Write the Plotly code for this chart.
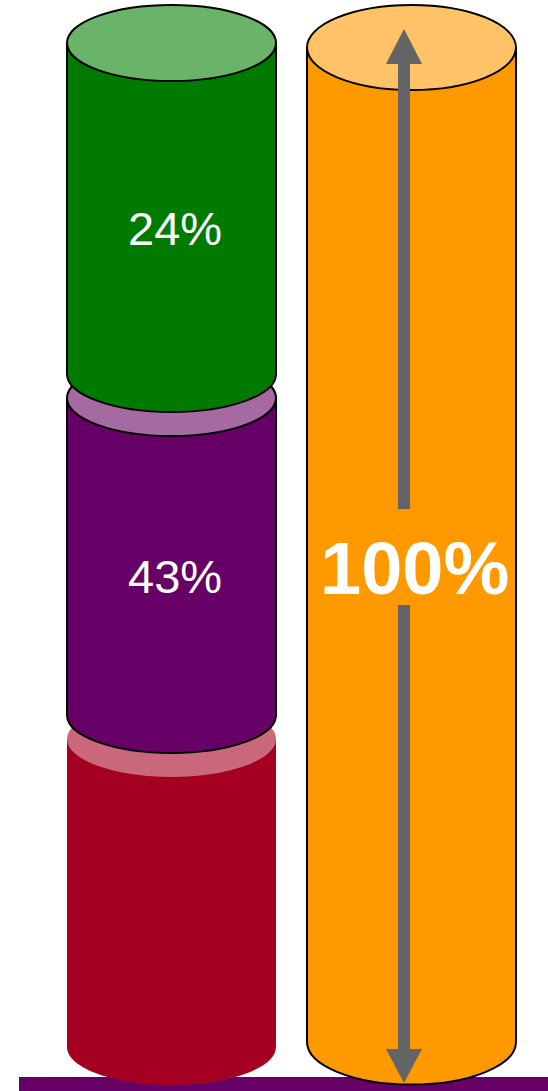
import plotly.graph_objects as go

# Shares of the stacked column, bottom to top
segment_names = ["Red", "Purple", "Green"]
segment_values = [33, 43, 24]
segment_labels = ["", "43%", "24%"]
total_value = 100
total_label = "100%"

W, H = 548, 1091
K = 0.5523  # cubic Bezier constant for quarter ellipses

# Colours: side face and lighter top face for each segment
side_colors = {"Red": "#A50021", "Purple": "#660066", "Green": "#007A00"}
top_colors = {"Red": "#C9687A", "Purple": "#A66AA3", "Green": "#6AB46A"}
outlined = {"Red": False, "Purple": True, "Green": True}
total_side, total_top = "#FF9900", "#FFC266"
arrow_color = "#636466"
base_color = "#660066"

# Layout geometry (screen units, y grows downward)
left_cx, left_rx, left_ry = 171.5, 104.5, 38
tier_top = [739, 398, 43]      # centre line of each tier's top face
tier_bottom = [1047, 715, 374]  # centre line of each tier's bottom face
right_cx, right_rx, right_ry = 411.5, 104.5, 42.5
right_top, right_bottom = 47.5, 1042


def body_path(cx, rx, ry, yt, yb):
    return (
        f"M {cx-rx},{yt} L {cx-rx},{yb} "
        f"C {cx-rx},{yb+K*ry} {cx-K*rx},{yb+ry} {cx},{yb+ry} "
        f"C {cx+K*rx},{yb+ry} {cx+rx},{yb+K*ry} {cx+rx},{yb} "
        f"L {cx+rx},{yt} Z"
    )


shapes = []
# baseline bar
shapes.append(dict(type="rect", x0=19, x1=W, y0=1077, y1=H,
                   fillcolor=base_color, line=dict(width=0)))


def cylinder(cx, rx, ry, yt, yb, side, top, outline):
    line = dict(color="black", width=2) if outline else dict(width=0)
    shapes.append(dict(type="path", path=body_path(cx, rx, ry, yt, yb),
                       fillcolor=side, line=line))
    shapes.append(dict(type="circle", x0=cx - rx, x1=cx + rx,
                       y0=yt - ry, y1=yt + ry, fillcolor=top, line=line))


for name, yt, yb in zip(segment_names, tier_top, tier_bottom):
    cylinder(left_cx, left_rx, left_ry, yt, yb,
             side_colors[name], top_colors[name], outlined[name])

cylinder(right_cx, right_rx, right_ry, right_top, right_bottom,
         total_side, total_top, True)

# double-headed arrow spanning the total column
ax, shaft_half, head_half = 404, 6, 18
tip_top, head_top_base = 29, 64
tip_bot, head_bot_base = 1083, 1049
gap_top, gap_bot = 509, 605
shapes.append(dict(type="rect", x0=ax - shaft_half, x1=ax + shaft_half,
                   y0=head_top_base - 1, y1=gap_top, fillcolor=arrow_color, line=dict(width=0)))
shapes.append(dict(type="rect", x0=ax - shaft_half, x1=ax + shaft_half,
                   y0=gap_bot, y1=head_bot_base + 1, fillcolor=arrow_color, line=dict(width=0)))
shapes.append(dict(type="path",
                   path=f"M {ax},{tip_top} L {ax+head_half},{head_top_base} L {ax-head_half},{head_top_base} Z",
                   fillcolor=arrow_color, line=dict(width=0)))
shapes.append(dict(type="path",
                   path=f"M {ax},{tip_bot} L {ax+head_half},{head_bot_base} L {ax-head_half},{head_bot_base} Z",
                   fillcolor=arrow_color, line=dict(width=0)))

annotations = []
for label, yt, yb in zip(segment_labels, tier_top, tier_bottom):
    if label:
        annotations.append(dict(x=left_cx + 3, y=(yt + yb) / 2 + 20, text=label,
                                showarrow=False, xanchor="center", yanchor="middle",
                                font=dict(family="Liberation Sans, Arial", size=47, color="white")))
annotations.append(dict(x=414, y=568, text=f"<b>{total_label}</b>", showarrow=False,
                        xanchor="center", yanchor="middle",
                        font=dict(family="Liberation Sans, Arial", size=74, color="white")))

fig = go.Figure()
fig.add_trace(go.Scatter(x=[0, W], y=[0, H], mode="markers",
                         marker=dict(opacity=0), hoverinfo="skip", showlegend=False))
fig.update_layout(
    width=W, height=H, margin=dict(l=0, r=0, t=0, b=0),
    paper_bgcolor="white", plot_bgcolor="white",
    xaxis=dict(range=[0, W], visible=False, fixedrange=True),
    yaxis=dict(range=[H, 0], visible=False, fixedrange=True),
    shapes=shapes, annotations=annotations, showlegend=False,
)
fig.write_html("out.html")
